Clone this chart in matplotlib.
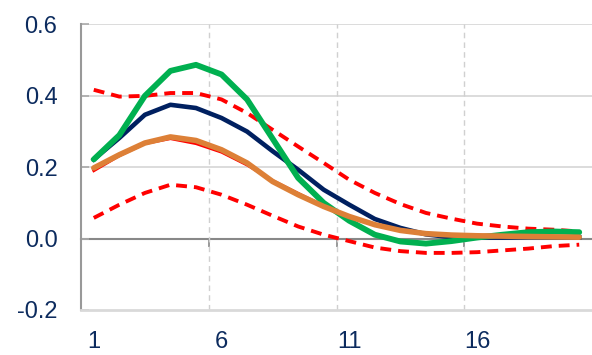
import numpy as np
import matplotlib
matplotlib.use("Agg")
import matplotlib.pyplot as plt

# Horizons 1..20
periods = list(range(1, 21))

# Series
upper_band = [0.417, 0.398, 0.400, 0.408, 0.408, 0.390, 0.352, 0.305, 0.258, 0.212,
              0.165, 0.128, 0.097, 0.072, 0.056, 0.042, 0.034, 0.028, 0.025, 0.020]
lower_band = [0.058, 0.095, 0.128, 0.151, 0.144, 0.123, 0.095, 0.064, 0.034, 0.011,
              -0.007, -0.025, -0.035, -0.040, -0.040, -0.038, -0.033, -0.028, -0.021, -0.017]
red_line = [0.190, 0.232, 0.266, 0.280, 0.266, 0.242, 0.206, 0.163, 0.127, 0.092,
            0.063, 0.040, 0.024, 0.014, 0.010, 0.008, 0.006, 0.005, 0.004, 0.003]
orange_line = [0.198, 0.235, 0.268, 0.285, 0.275, 0.249, 0.212, 0.160, 0.123, 0.090,
               0.062, 0.039, 0.023, 0.014, 0.010, 0.008, 0.007, 0.006, 0.005, 0.004]
navy_line = [0.222, 0.282, 0.347, 0.375, 0.366, 0.338, 0.300, 0.245, 0.193, 0.137,
             0.095, 0.055, 0.030, 0.012, 0.004, 0.003, 0.003, 0.004, 0.004, 0.004]
green_line = [0.222, 0.290, 0.400, 0.470, 0.487, 0.460, 0.390, 0.280, 0.170, 0.100,
              0.050, 0.011, -0.008, -0.014, -0.007, 0.003, 0.011, 0.018, 0.020, 0.018]

x_labels = ["1", "6", "11", "16"]
x_label_pos = [1, 6, 11, 16]
y_ticks = [-0.2, 0.0, 0.2, 0.4, 0.6]

text_col = "#0C2B5E"
plt.rcParams["font.family"] = ["Liberation Sans", "DejaVu Sans"]

fig = plt.figure(figsize=(5.92, 3.55), dpi=100)
ax = fig.add_axes([81 / 592, 1 - 310 / 355, 1 - 81 / 592, (310 - 24.5) / 355])

# grid
for yv in [0.2, 0.4, 0.6]:
    ax.axhline(yv, color="#D9D9D9", lw=1.3, zorder=1)
for xv in [5.5, 10.5, 15.5]:
    ax.axvline(xv, color="#D0D0D0", lw=1.0, ls=(0, (4, 3)), zorder=1)

# series
dash = (0, (2.8, 1.8))
ax.plot(periods, upper_band, color="#FF0000", lw=2.8, ls=dash, zorder=3)
ax.plot(periods, lower_band, color="#FF0000", lw=2.8, ls=dash, zorder=3)
ax.plot(periods, red_line, color="#FF0000", lw=2.0, zorder=4)
ax.plot(periods, navy_line, color="#002060", lw=3.3, zorder=5)
ax.plot(periods, green_line, color="#00B050", lw=4.2, solid_capstyle="round", zorder=6)
ax.plot(periods, orange_line, color="#DD8037", lw=4.0, solid_capstyle="round", zorder=7)

ax.set_xlim(0.5, 20.5)
ax.set_ylim(-0.2, 0.6)

ax.set_yticks(y_ticks)
ax.set_yticklabels(["%.1f" % v for v in y_ticks])
ax.tick_params(axis="y", direction="in", length=6, width=1.2, color="#AAAAAA",
               labelsize=17, labelcolor=text_col, pad=17)
ax.set_xticks(x_label_pos)
ax.set_xticklabels(x_labels)
ax.tick_params(axis="x", length=0, labelsize=17, labelcolor=text_col, pad=15)

for s in ["top", "right"]:
    ax.spines[s].set_visible(False)
ax.spines["left"].set_color("#999999")
ax.spines["left"].set_linewidth(1.5)
ax.spines["bottom"].set_color("#D9D9D9")
ax.spines["bottom"].set_linewidth(2)

# zero axis with category boundary ticks
zero_ax = ax.secondary_xaxis(0.25)
zero_ax.set_xticks([0.5, 5.5, 10.5, 15.5])
zero_ax.set_xticklabels([])
zero_ax.tick_params(direction="out", length=6, width=1.2, color="#888888")
zero_ax.spines["bottom"].set_color("#888888")
zero_ax.spines["bottom"].set_linewidth(1.5)

fig.savefig("out.png", dpi=100)
